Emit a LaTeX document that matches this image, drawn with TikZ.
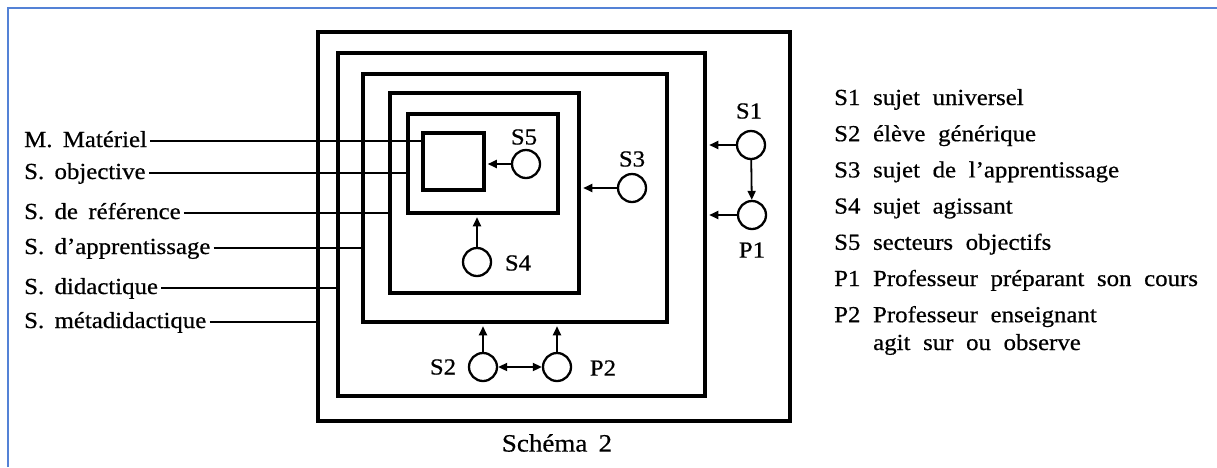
\documentclass[tikz,border=0pt]{standalone}
\usepackage{fontspec}
\setmainfont{Liberation Serif}[FakeStretch=1.08, FakeBold=0.6]
\usetikzlibrary{arrows.meta}

\definecolor{frameblue}{RGB}{84,130,214}
\newcommand{\widegaps}{\spaceskip=.45em plus .1em\relax}
\newcommand{\widergaps}{\spaceskip=.55em plus .1em\relax}

\begin{document}
\begin{tikzpicture}[x=1pt, y=-1pt,
  every node/.style={font=\fontsize{23}{27}\selectfont\widegaps, inner sep=0pt},
  frame/.style={draw, line width=4.5pt, inner sep=0pt},
  ring/.style={draw, circle, line width=2.3pt, minimum size=28pt, inner sep=0pt},
  link/.style={line width=1.8pt},
  push/.style={line width=1.8pt, -{Triangle[length=9pt, width=8pt]}, shorten >=2pt}]
  \useasboundingbox (0,0) rectangle (1217,467);
  \draw[frameblue, line width=2pt] (8,467) -- (8,8) -- (1217,8);

  % nested situations
  \node[frame, minimum width=472pt, minimum height=389pt] (meta) at (554,226.5) {};
  \node[frame, minimum width=367pt, minimum height=343pt] (dida) at (521.5,224.5) {};
  \node[frame, minimum width=304pt, minimum height=248pt] (appr) at (515,198) {};
  \node[frame, minimum width=189pt, minimum height=200pt] (refe) at (484.5,193) {};
  \node[frame, minimum width=150pt, minimum height=99pt] (obje) at (483,163.5) {};
  \node[frame, line width=3.5pt, minimum width=61pt, minimum height=57pt] (mate) at (453.5,161.5) {};

  % names on the left
  \node[anchor=base west] (lmate) at (24,147) {M. Matériel};
  \node[anchor=base west] (lobje) at (24,179) {S. objective};
  \node[anchor=base west] (lrefe) at (24,219) {S. de référence};
  \node[anchor=base west] (lappr) at (24,254) {S. d'apprentissage};
  \node[anchor=base west] (ldida) at (24,294) {S. didactique};
  \node[anchor=base west] (lmeta) at (24,328) {S. métadidactique};
  \draw[link] ([xshift=3pt]lmate.east |- 0,141) -- (mate.west |- 0,141);
  \draw[link] ([xshift=3pt]lobje.east |- 0,173) -- (obje.west |- 0,173);
  \draw[link] ([xshift=3pt]lrefe.east |- 0,213) -- (refe.west |- 0,213);
  \draw[link] ([xshift=3pt]lappr.east |- 0,248) -- (appr.west |- 0,248);
  \draw[link] ([xshift=3pt]ldida.east |- 0,288) -- (dida.west |- 0,288);
  \draw[link] ([xshift=3pt]lmeta.east |- 0,322) -- (meta.west |- 0,322);

  % subjects
  \node[ring] (s5) at (526,164) {};
  \node[ring] (s3) at (632,188) {};
  \node[ring] (s1) at (751,145) {};
  \node[ring] (p1) at (752,215) {};
  \node[ring] (s4) at (477,262) {};
  \node[ring] (s2) at (483,367) {};
  \node[ring] (p2) at (557,367) {};
  \node (ts5) at (524,137) {S5};
  \node (ts3) at (632,159) {S3};
  \node (ts1) at (749,111) {S1};
  \node (tp1) at (752,250) {P1};
  \node (ts4) at (518,263) {S4};
  \node (ts2) at (443,367) {S2};
  \node (tp2) at (603,368) {P2};

  \draw[push] (s5) -- (s5 -| mate.east);
  \draw[push] (s3) -- (s3 -| refe.east);
  \draw[push] (s1) -- (s1 -| dida.east);
  \draw[push] (p1) -- (p1 -| dida.east);
  \draw[push, shorten >=0pt] (s1) -- (p1);
  \draw[push] (s4) -- (s4 |- obje.south);
  \draw[push] (s2) -- (s2 |- appr.south);
  \draw[push] (p2) -- (p2 |- appr.south);
  \draw[link, {Triangle[length=9pt, width=8pt]}-{Triangle[length=9pt, width=8pt]}] (s2) -- (p2);

  % legend
  \foreach \code/\txt [count=\i] in {S1/sujet universel, S2/élève générique,
      S3/sujet de l'apprentissage, S4/sujet agissant, S5/secteurs objectifs,
      P1/Professeur préparant son cours, P2/Professeur enseignant}
    \node[anchor=base west, font=\fontsize{23}{27}\selectfont\widergaps] (leg\i) at (834,{105+36.2*(\i-1)}) {\code\ \txt};
  \node[anchor=base west, font=\fontsize{23}{27}\selectfont\widergaps] (leg8) at (873,350) {agit sur ou observe};

  \node[font=\fontsize{25}{30}\selectfont\widegaps] (caption) at (557,443) {Schéma 2};
\end{tikzpicture}
\end{document}
